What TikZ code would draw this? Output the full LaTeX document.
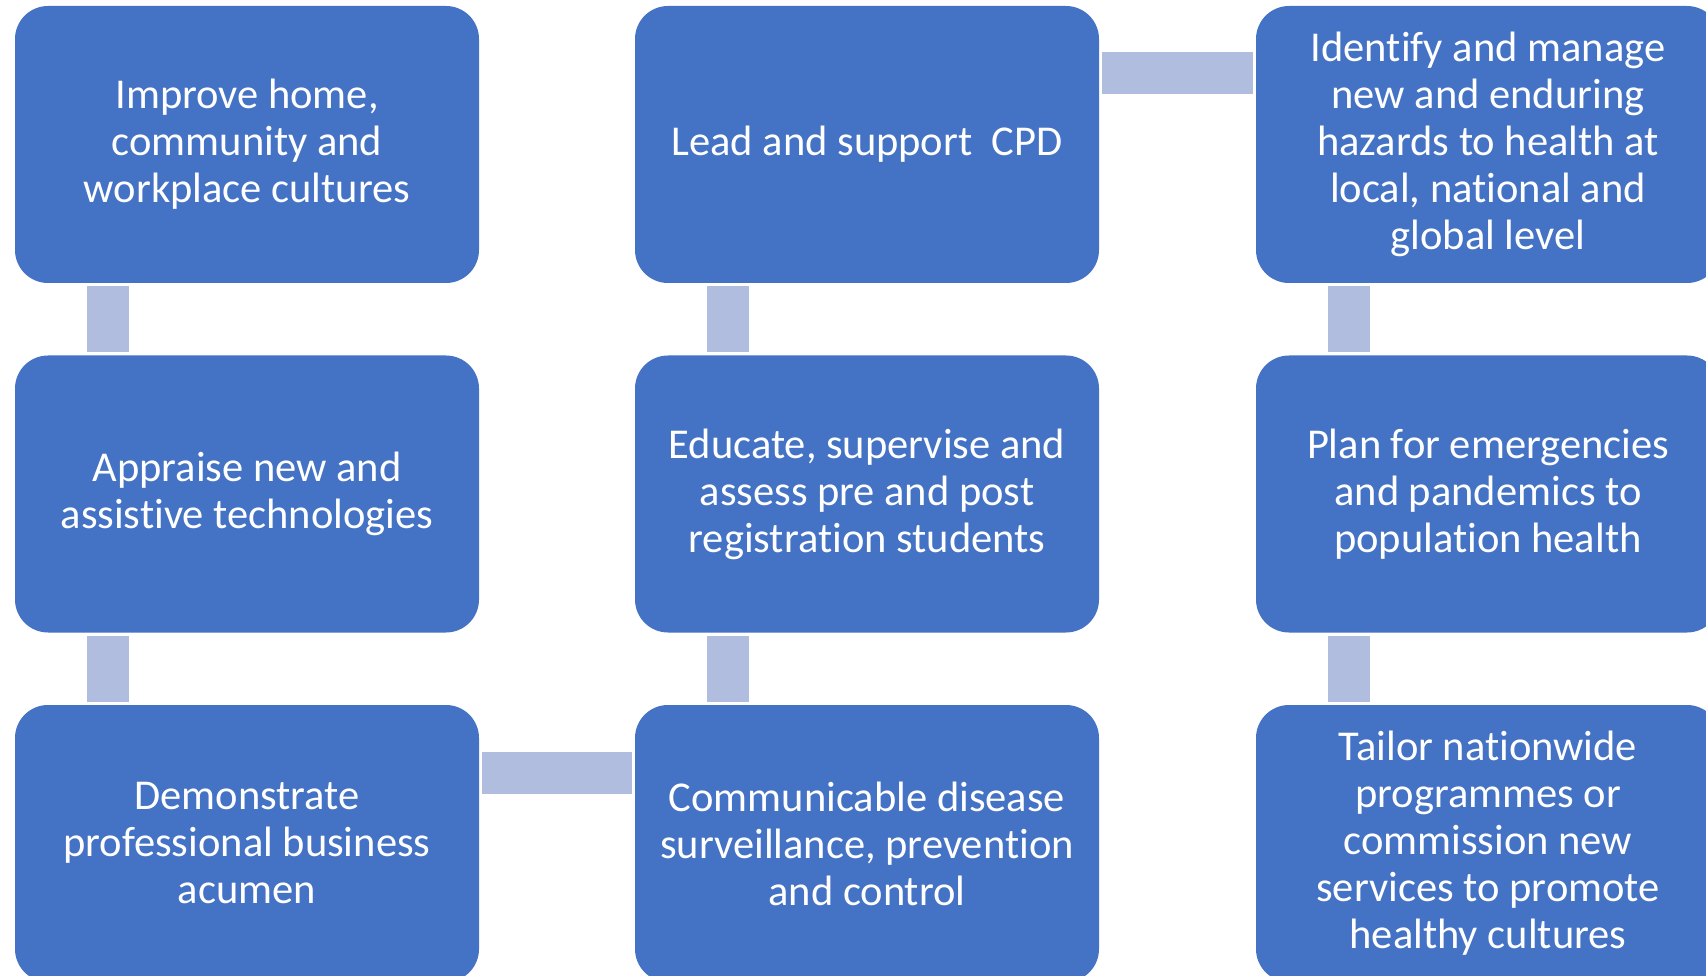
\documentclass[tikz,border=0pt]{standalone}
\usepackage{fontspec}
\setmainfont[Ligatures=NoCommon]{Carlito}
\definecolor{boxblue}{HTML}{4472C4}
\definecolor{connblue}{HTML}{B0BDDF}
\newcommand{\nolig}{\kern0pt}
\begin{document}
\begin{tikzpicture}[x=1pt,y=-1pt,
  box/.style={fill=boxblue, draw=none, rounded corners=33pt, minimum width=464pt, minimum height=277pt, inner sep=0pt, align=center, text=white, font=\fontsize{42.5}{47}\selectfont},
  conn/.style={draw=connblue, line width=42pt, line cap=butt, shorten >=3pt, shorten <=3pt}]
\useasboundingbox (0,0) rectangle (1706,976);
\clip (0,0) rectangle (1706,976);
\node[box] (a1) at (247,144.5) {Improve home,\\community and\\workplace cultures};
\node[box] (a2) at (247,494) {Appraise new and\\assistive technologies};
\node[box] (a3) at (247,843.5) {Demonstrate\\professional business\\acumen};
\node[box] (b1) at (867,144.5) {Lead and support\ \ CPD};
\node[box] (b2) at (867,494) {Educate, supervise and\\assess pre and post\\registrat\nolig ion students};
\node[box] (b3) at (867,843.5) {Communicable disease\\surveillance, prevent\nolig ion\\and control};
\node[box] (c1) at (1488,144.5) {Identify and manage\\new and enduring\\hazards to health at\\local, nat\nolig ional and\\global level};
\node[box] (c2) at (1488,494) {Plan for emergencies\\and pandemics to\\populat\nolig ion health};
\node[box] (c3) at (1488,843.5) {Tailor nat\nolig ionwide\\programmes or\\commission new\\services to promote\\healthy cultures};
\draw[conn] ([xshift=-139pt]a1.south) -- ([xshift=-139pt]a2.north);
\draw[conn] ([xshift=-139pt]a2.south) -- ([xshift=-139pt]a3.north);
\draw[conn] ([yshift=71pt]a3.east) -- ([yshift=71pt]b3.west);
\draw[conn] ([xshift=-139pt]b3.north) -- ([xshift=-139pt]b2.south);
\draw[conn] ([xshift=-139pt]b2.north) -- ([xshift=-139pt]b1.south);
\draw[conn] ([yshift=71pt]b1.east) -- ([yshift=71pt]c1.west);
\draw[conn] ([xshift=-139pt]c1.south) -- ([xshift=-139pt]c2.north);
\draw[conn] ([xshift=-139pt]c2.south) -- ([xshift=-139pt]c3.north);
\end{tikzpicture}
\end{document}
